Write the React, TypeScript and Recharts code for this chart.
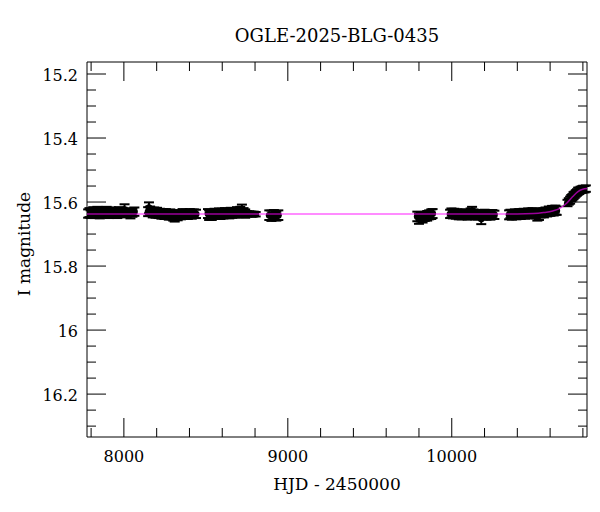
import { ComposedChart, Scatter, Line, XAxis, YAxis, ErrorBar } from 'recharts';

// [HJD - 2450000, I mag, error] per observing season
const obs2017 = [
  [7782, 15.636, 0.013], [7790, 15.633, 0.014], [7797, 15.638, 0.012], [7805, 15.634, 0.013],
  [7813, 15.631, 0.015], [7822, 15.637, 0.013], [7830, 15.635, 0.012], [7838, 15.629, 0.014],
  [7845, 15.633, 0.013], [7853, 15.638, 0.013], [7861, 15.632, 0.012], [7870, 15.630, 0.014],
  [7878, 15.636, 0.013], [7887, 15.633, 0.015], [7895, 15.628, 0.013], [7904, 15.634, 0.012],
  [7913, 15.637, 0.013], [7922, 15.631, 0.014], [7931, 15.635, 0.013], [7940, 15.630, 0.012],
  [7950, 15.633, 0.013], [7960, 15.636, 0.014], [7970, 15.629, 0.013], [7981, 15.634, 0.012],
  [7992, 15.631, 0.013], [8004, 15.624, 0.017], [8015, 15.635, 0.013], [8027, 15.632, 0.012],
  [8040, 15.637, 0.014], [8052, 15.633, 0.013], [8064, 15.630, 0.013],
];

const obs2018 = [
  [8148, 15.630, 0.014], [8153, 15.618, 0.017], [8160, 15.627, 0.013], [8168, 15.631, 0.013],
  [8176, 15.634, 0.014], [8185, 15.629, 0.012], [8193, 15.636, 0.013], [8202, 15.632, 0.014],
  [8211, 15.637, 0.013], [8220, 15.633, 0.012], [8229, 15.638, 0.014], [8238, 15.635, 0.013],
  [8247, 15.640, 0.013], [8256, 15.636, 0.014], [8265, 15.639, 0.013], [8274, 15.642, 0.013],
  [8283, 15.637, 0.014], [8292, 15.641, 0.013], [8301, 15.644, 0.014], [8310, 15.646, 0.015],
  [8319, 15.640, 0.013], [8328, 15.643, 0.014], [8338, 15.638, 0.013], [8348, 15.641, 0.013],
  [8358, 15.636, 0.014], [8368, 15.640, 0.013], [8379, 15.637, 0.013], [8390, 15.639, 0.014],
  [8402, 15.635, 0.013], [8414, 15.638, 0.014], [8427, 15.636, 0.013], [8440, 15.637, 0.013],
];

const obs2019 = [
  [8513, 15.636, 0.014], [8520, 15.641, 0.015], [8528, 15.637, 0.013], [8536, 15.642, 0.014],
  [8545, 15.638, 0.013], [8553, 15.635, 0.014], [8562, 15.640, 0.013], [8571, 15.636, 0.014],
  [8580, 15.633, 0.013], [8589, 15.638, 0.015], [8598, 15.634, 0.013], [8607, 15.637, 0.014],
  [8616, 15.632, 0.013], [8625, 15.636, 0.014], [8634, 15.633, 0.013], [8643, 15.637, 0.014],
  [8652, 15.631, 0.013], [8661, 15.635, 0.014], [8670, 15.632, 0.013], [8680, 15.636, 0.013],
  [8690, 15.630, 0.014], [8700, 15.634, 0.013], [8710, 15.629, 0.014], [8720, 15.624, 0.016],
  [8730, 15.632, 0.013], [8740, 15.636, 0.013], [8752, 15.637, 0.008], [8765, 15.636, 0.007],
  [8778, 15.638, 0.007], [8792, 15.637, 0.007], [8804, 15.638, 0.007],
];

const obs2020 = [
  [8887, 15.641, 0.015], [8900, 15.643, 0.016], [8915, 15.640, 0.015], [8930, 15.644, 0.014],
  [8942, 15.641, 0.015],
];

const obs2022 = [
  [9790, 15.645, 0.015], [9800, 15.652, 0.016], [9810, 15.646, 0.015], [9822, 15.649, 0.015],
  [9835, 15.645, 0.014], [9850, 15.643, 0.015], [9862, 15.640, 0.014], [9875, 15.638, 0.015],
  [9883, 15.636, 0.014],
];

const obs2023 = [
  [9990, 15.637, 0.013], [9998, 15.634, 0.014], [10007, 15.638, 0.013], [10016, 15.635, 0.014],
  [10025, 15.639, 0.013], [10034, 15.636, 0.013], [10043, 15.640, 0.014], [10052, 15.637, 0.013],
  [10061, 15.641, 0.013], [10070, 15.638, 0.014], [10079, 15.636, 0.013], [10088, 15.639, 0.014],
  [10097, 15.642, 0.013], [10106, 15.638, 0.013], [10115, 15.634, 0.014], [10124, 15.630, 0.015],
  [10133, 15.636, 0.013], [10142, 15.640, 0.014], [10151, 15.638, 0.013], [10160, 15.642, 0.013],
  [10170, 15.639, 0.014], [10180, 15.652, 0.017], [10190, 15.641, 0.013], [10200, 15.638, 0.014],
  [10212, 15.642, 0.013], [10224, 15.639, 0.013], [10236, 15.641, 0.014], [10248, 15.638, 0.013],
  [10260, 15.640, 0.013],
];

const obs2024 = [
  [10350, 15.640, 0.014], [10358, 15.637, 0.013], [10367, 15.641, 0.014], [10376, 15.638, 0.013],
  [10385, 15.636, 0.013], [10394, 15.640, 0.014], [10403, 15.637, 0.013], [10412, 15.635, 0.013],
  [10421, 15.639, 0.014], [10430, 15.636, 0.013], [10439, 15.634, 0.013], [10448, 15.638, 0.014],
  [10457, 15.635, 0.013], [10466, 15.633, 0.013], [10475, 15.637, 0.014], [10484, 15.634, 0.013],
  [10493, 15.632, 0.013], [10502, 15.636, 0.014], [10512, 15.638, 0.013], [10522, 15.643, 0.015],
  [10532, 15.641, 0.015], [10542, 15.635, 0.013], [10552, 15.632, 0.013], [10562, 15.634, 0.014],
  [10572, 15.630, 0.013], [10582, 15.632, 0.013], [10592, 15.628, 0.014], [10602, 15.630, 0.013],
  [10612, 15.626, 0.014], [10622, 15.629, 0.013], [10632, 15.625, 0.014], [10640, 15.627, 0.013],
];

const obs2025 = [
  [10706, 15.603, 0.010], [10714, 15.598, 0.010], [10722, 15.594, 0.011], [10729, 15.588, 0.010],
  [10736, 15.585, 0.010], [10743, 15.580, 0.011], [10750, 15.577, 0.010], [10757, 15.573, 0.010],
  [10764, 15.570, 0.010], [10771, 15.566, 0.011], [10778, 15.565, 0.010], [10786, 15.562, 0.010],
  [10794, 15.561, 0.010], [10802, 15.559, 0.010], [10810, 15.560, 0.010], [10818, 15.558, 0.010],
];

// microlensing model curve
const modelHjd = [7775, 8500, 9500, 10200, 10400, 10500, 10560, 10616, 10659, 10701, 10738, 10768, 10799, 10825];
const modelMag = [15.637, 15.637, 15.637, 15.637, 15.637, 15.636, 15.633, 15.628, 15.620, 15.604, 15.583, 15.568, 15.560, 15.558];

const xTicks = [7800, 8000, 8200, 8400, 8600, 8800, 9000, 9200, 9400, 9600, 9800, 10000, 10200, 10400, 10600, 10800];
const yTicks = [15.2, 15.25, 15.3, 15.35, 15.4, 15.45, 15.5, 15.55, 15.6, 15.65, 15.7, 15.75, 15.8, 15.85, 15.9, 15.95, 16, 16.05, 16.1, 16.15, 16.2, 16.25, 16.3];

const obsData = [...obs2017, ...obs2018, ...obs2019, ...obs2020, ...obs2022, ...obs2023, ...obs2024, ...obs2025]
  .map(([hjd, mag, err]) => ({ hjd, mag, err }));
const modelData = modelHjd.map((hjd, i) => ({ hjd, mag: modelMag[i] }));

const X_DOMAIN = [7775, 10825];
const Y_DOMAIN = [15.1625, 16.334];
const FONT = '"DejaVu Serif", serif';

const isMajorX = (v: number) => v % 1000 === 0;
const isMajorY = (v: number) => Math.round(v * 100) % 20 === 0;

const BottomTick = ({ x, y, payload }: any) => {
  const major = isMajorX(payload.value);
  return (
    <g>
      <line x1={x} x2={x} y1={y} y2={y - (major ? 19 : 9)} stroke="#000" />
      {major && (
        <text x={x} y={y + 25} textAnchor="middle" fontSize={16} fontFamily={FONT} fill="#000">
          {payload.value}
        </text>
      )}
    </g>
  );
};

const TopTick = ({ x, y, payload }: any) => {
  const major = isMajorX(payload.value);
  return <line x1={x} x2={x} y1={y} y2={y + (major ? 19 : 9)} stroke="#000" />;
};

const LeftTick = ({ x, y, payload }: any) => {
  const major = isMajorY(payload.value);
  return (
    <g>
      <line x1={x} x2={x + (major ? 19 : 9)} y1={y} y2={y} stroke="#000" />
      {major && (
        <text x={x - 9} y={y + 7} textAnchor="end" fontSize={16} fontFamily={FONT} fill="#000">
          {`${+payload.value.toFixed(2)}`}
        </text>
      )}
    </g>
  );
};

const RightTick = ({ x, y, payload }: any) => {
  const major = isMajorY(payload.value);
  return <line x1={x} x2={x - (major ? 19 : 9)} y1={y} y2={y} stroke="#000" />;
};

const Dot = (p: any) => <circle cx={p.cx} cy={p.cy} r={3.5} fill="#000" />;

export default function App() {
  return (
    <div style={{ position: 'absolute', left: 0, top: 0, width: 600, height: 512, background: '#fff' }}>
      <ComposedChart width={600} height={512} margin={{ top: 61, right: 12, bottom: 0, left: 0 }}>
        <XAxis
          xAxisId="bottom"
          dataKey="hjd"
          type="number"
          domain={X_DOMAIN}
          allowDataOverflow
          ticks={xTicks}
          interval={0}
          height={75}
          tickSize={0}
          tickMargin={0}
          tickLine={false}
          tick={<BottomTick />}
          axisLine={{ stroke: '#000' }}
        />
        <XAxis
          xAxisId="top"
          orientation="top"
          dataKey="hjd"
          type="number"
          domain={X_DOMAIN}
          allowDataOverflow
          ticks={xTicks}
          interval={0}
          height={1}
          tickSize={0}
          tickMargin={0}
          tickLine={false}
          tick={<TopTick />}
          axisLine={{ stroke: '#000' }}
        />
        <YAxis
          yAxisId="left"
          dataKey="mag"
          type="number"
          domain={Y_DOMAIN}
          reversed
          allowDataOverflow
          ticks={yTicks}
          interval={0}
          width={87}
          tickSize={0}
          tickMargin={0}
          tickLine={false}
          tick={<LeftTick />}
          axisLine={{ stroke: '#000' }}
        />
        <YAxis
          yAxisId="right"
          orientation="right"
          dataKey="mag"
          type="number"
          domain={Y_DOMAIN}
          reversed
          allowDataOverflow
          ticks={yTicks}
          interval={0}
          width={1}
          tickSize={0}
          tickMargin={0}
          tickLine={false}
          tick={<RightTick />}
          axisLine={{ stroke: '#000' }}
        />
        <Scatter
          data={obsData}
          dataKey="mag"
          xAxisId="bottom"
          yAxisId="left"
          shape={Dot}
          isAnimationActive={false}
        >
          <ErrorBar dataKey="err" direction="y" width={5} stroke="#000" strokeWidth={2} isAnimationActive={false} />
        </Scatter>
      </ComposedChart>
      {/* model curve drawn in an overlay so it sits above the data points */}
      <div style={{ position: 'absolute', left: 0, top: 0, pointerEvents: 'none' }}>
        <ComposedChart width={600} height={512} margin={{ top: 62, right: 13, bottom: 75, left: 87 }}>
          <XAxis dataKey="hjd" type="number" domain={X_DOMAIN} allowDataOverflow hide />
          <YAxis dataKey="mag" type="number" domain={Y_DOMAIN} reversed allowDataOverflow hide />
          <Line
            data={modelData}
            dataKey="mag"
            type="monotone"
            stroke="#ff00ff"
            strokeOpacity={0.6}
            strokeWidth={1.5}
            dot={false}
            isAnimationActive={false}
          />
        </ComposedChart>
      </div>
      <svg width={600} height={512} style={{ position: 'absolute', left: 0, top: 0, pointerEvents: 'none' }}>
        <text x={337} y={42} textAnchor="middle" fontSize={18} fontFamily={FONT} fill="#000">
          OGLE-2025-BLG-0435
        </text>
        <text x={337} y={490} textAnchor="middle" fontSize={17} fontFamily={FONT} fill="#000">
          HJD - 2450000
        </text>
        <text x={30} y={244} textAnchor="middle" fontSize={17} fontFamily={FONT} fill="#000" transform="rotate(-90, 30, 244)">
          I magnitude
        </text>
      </svg>
    </div>
  );
}
